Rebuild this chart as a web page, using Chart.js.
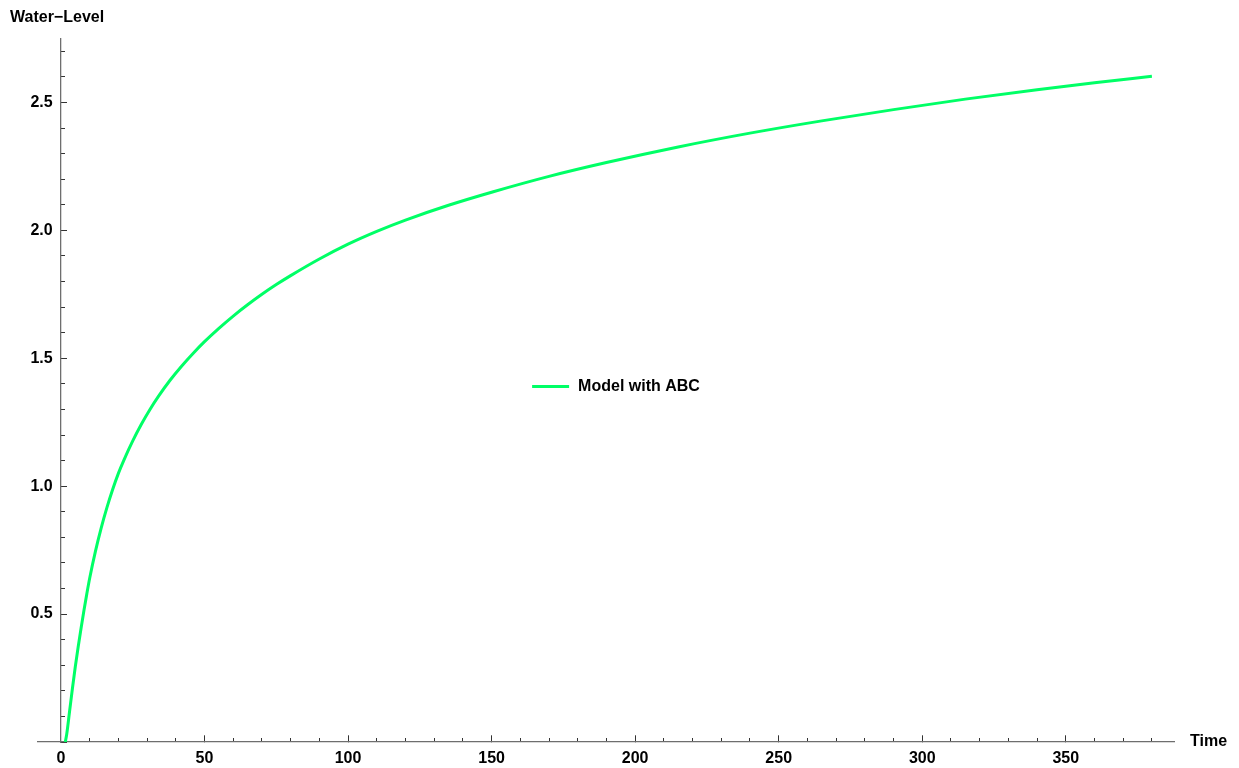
<!DOCTYPE html>
<html>
<head>
<meta charset="utf-8">
<script src="https://cdn.jsdelivr.net/npm/chart.js@4/dist/chart.umd.min.js"></script>
<style>
  html, body { margin: 0; padding: 0; background: #fff; }
  #wrap { position: relative; width: 1239px; height: 768px; }
  canvas { display: block; }
</style>
</head>
<body>
<div id="wrap"><canvas id="c" width="1239" height="768"></canvas></div>
<script>
// ---- data ----
const seriesLabel = "Model with ABC";
const xAxisLabel = "Time";
const yAxisLabel = "Water\u2212Level";
const timeValues = [1.5, 2, 3, 4, 5, 6, 7, 8, 9, 10, 12, 14, 16, 18, 20, 22, 25, 28, 31, 34, 38, 42, 46,
  50, 55, 60, 65, 70, 75, 80, 90, 100, 110, 120, 135, 150, 170, 190, 215, 240, 265, 290, 315, 340, 360, 380];
const waterLevel = [0, 0.03, 0.12, 0.21, 0.295, 0.372, 0.445, 0.514, 0.579, 0.64, 0.745, 0.836, 0.916,
  0.987, 1.05, 1.104, 1.177, 1.242, 1.300, 1.352, 1.414, 1.469, 1.519, 1.565, 1.617, 1.665, 1.709,
  1.750, 1.788, 1.823, 1.888, 1.946, 1.996, 2.040, 2.098, 2.149, 2.211, 2.265, 2.326, 2.380, 2.428,
  2.472, 2.513, 2.550, 2.577, 2.602];
const xRange = [-8, 387.7];
const yRange = [0, 2.748];
const xMajorStep = 50, xMinorStep = 10;
const yMajorStep = 0.5, yMinorStep = 0.1;

const FONT = '"Liberation Sans", Arial, sans-serif';
const lineColor = '#00ff66';
const axisColor = '#6e6e6e';
const tickColor = '#333333';

const points = timeValues.map((t, i) => ({x: t, y: waterLevel[i]}));

const overlayText = {
  id: 'overlayText',
  afterDraw(chart) {
    const ctx = chart.ctx;
    const xs = chart.scales.x, ys = chart.scales.y;
    const ca = chart.chartArea;
    ctx.save();
    ctx.fillStyle = '#000';
    ctx.font = 'bold 16px ' + FONT;
    ctx.textBaseline = 'middle';
    ctx.textAlign = 'left';
    // axis labels
    ctx.fillText(yAxisLabel, 10, 18);
    ctx.fillText(xAxisLabel, xs.right + 16, ys.getPixelForValue(0));
    // legend in the middle of the plot
    const ds = chart.data.datasets[0];
    const tw = ctx.measureText(ds.label).width;
    const lineLen = 37, gap = 9;
    const total = lineLen + gap + tw;
    const cx = (ca.left + ca.right) / 2 + 10;
    const cy = (ca.top + ca.bottom) / 2 - 4;
    const x0 = cx - total / 2;
    ctx.strokeStyle = ds.borderColor;
    ctx.lineWidth = ds.borderWidth;
    ctx.beginPath();
    ctx.moveTo(x0, cy);
    ctx.lineTo(x0 + lineLen, cy);
    ctx.stroke();
    ctx.fillText(ds.label, x0 + lineLen + gap, cy + 0.5);
    ctx.restore();
  }
};

const tickFont = {family: FONT, size: 16, weight: 'bold'};

new Chart(document.getElementById('c'), {
  type: 'line',
  data: {
    datasets: [{
      label: seriesLabel,
      data: points,
      borderColor: lineColor,
      backgroundColor: lineColor,
      borderWidth: 3,
      pointRadius: 0,
      cubicInterpolationMode: 'monotone',
      fill: false,
      xAxisID: 'x',
      yAxisID: 'y'
    }]
  },
  options: {
    responsive: false,
    animation: false,
    layout: {padding: {left: 38, right: 65, top: 39, bottom: 26}},
    plugins: {legend: {display: false}, tooltip: {enabled: false}, title: {display: false}},
    scales: {
      x: {
        type: 'linear', min: xRange[0], max: xRange[1],
        position: {y: 0},
        grid: {drawOnChartArea: false, drawTicks: true, tickLength: -7, tickColor: tickColor, tickWidth: 1},
        border: {display: true, color: axisColor, width: 1.3},
        ticks: {
          stepSize: xMajorStep, includeBounds: false, padding: 14, color: '#000', font: tickFont,
          maxRotation: 0, autoSkip: false,
          callback: v => (v >= 0 ? String(v) : '')
        }
      },
      xMinor: {
        type: 'linear', min: xRange[0], max: xRange[1], axis: 'x',
        position: {y: 0},
        grid: {drawOnChartArea: false, drawTicks: true, tickLength: -4, tickColor: tickColor, tickWidth: 1},
        border: {display: false},
        ticks: {stepSize: xMinorStep, includeBounds: false, autoSkip: false, display: true,
          callback: () => '', font: {size: 1}}
      },
      y: {
        type: 'linear', min: yRange[0], max: yRange[1],
        position: {x: 0},
        grid: {drawOnChartArea: false, drawTicks: true, tickLength: -7, tickColor: tickColor, tickWidth: 1},
        border: {display: true, color: axisColor, width: 1.3},
        ticks: {stepSize: yMajorStep, includeBounds: false, display: false}
      },
      yLabels: {
        type: 'linear', min: yRange[0], max: yRange[1], axis: 'y',
        position: {x: -2.9},
        grid: {drawOnChartArea: false, drawTicks: false},
        border: {display: false},
        ticks: {stepSize: yMajorStep, includeBounds: false, color: '#000', font: tickFont, autoSkip: false,
          callback: v => (v > 0 ? v.toFixed(1) : '')}
      },
      yMinor: {
        type: 'linear', min: yRange[0], max: yRange[1], axis: 'y',
        position: {x: 0},
        grid: {drawOnChartArea: false, drawTicks: true, tickLength: -4, tickColor: tickColor, tickWidth: 1},
        border: {display: false},
        ticks: {stepSize: yMinorStep, includeBounds: false, autoSkip: false, display: true,
          callback: () => '', font: {size: 1}}
      }
    }
  },
  plugins: [overlayText]
});
</script>
</body>
</html>
